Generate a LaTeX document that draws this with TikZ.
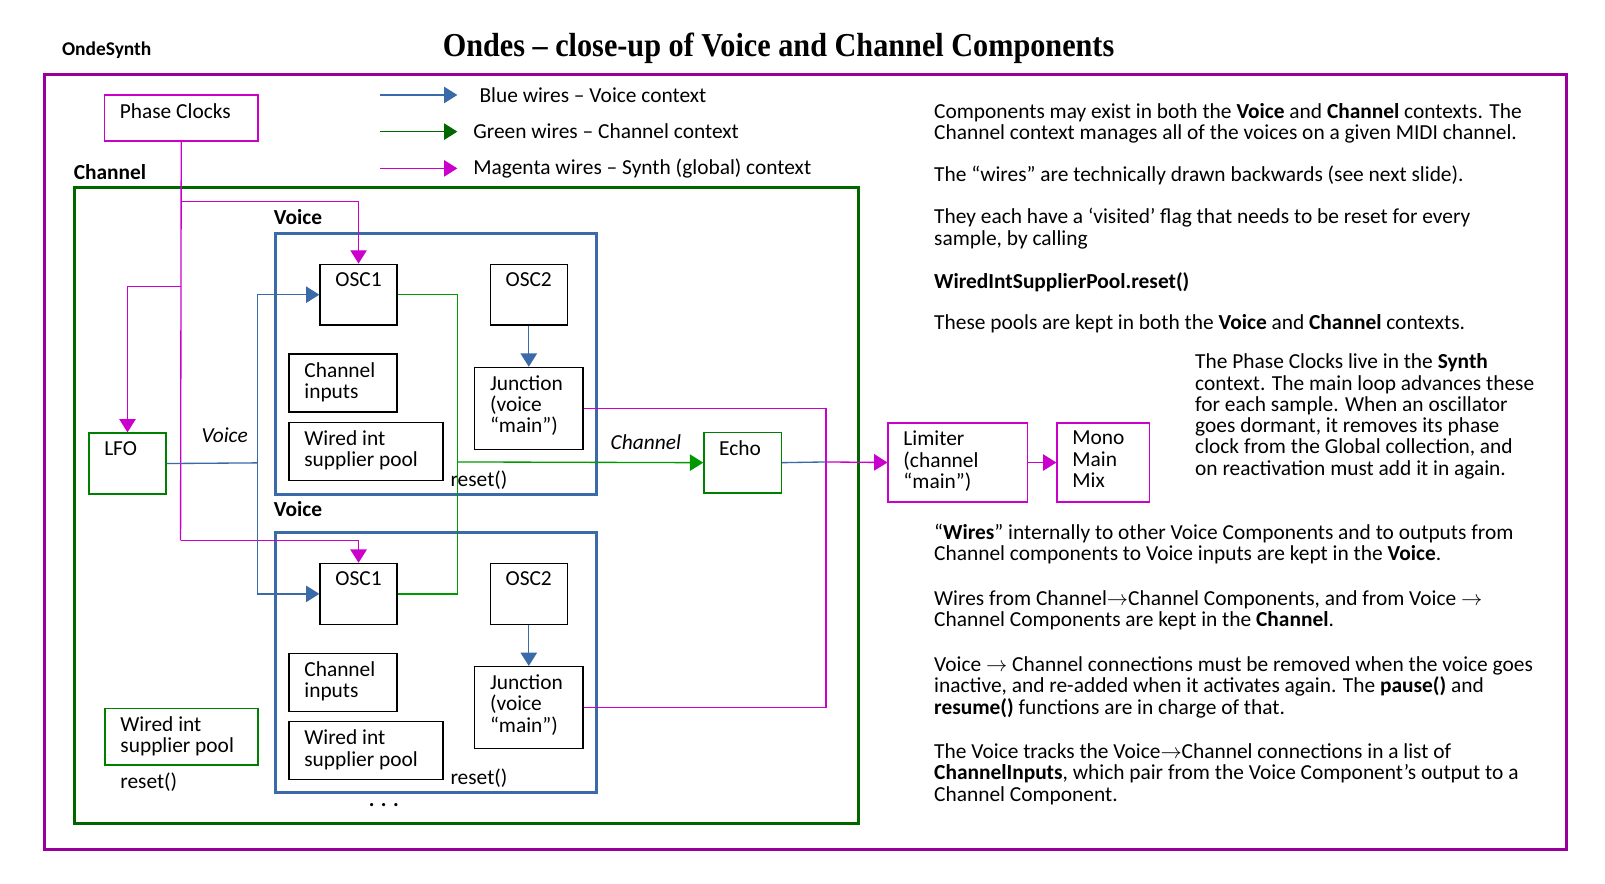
\documentclass[tikz,border=0pt]{standalone}
\usepackage{fontspec}
\setmainfont{Carlito}
\newfontfamily\titlefont{Liberation Serif}
\usetikzlibrary{arrows.meta,positioning}

\definecolor{synthpurple}{RGB}{153,0,153}
\definecolor{changreen}{RGB}{0,102,0}
\definecolor{voiceblue}{RGB}{58,106,168}
\definecolor{wiremag}{RGB}{204,0,204}
\definecolor{wiregreen}{RGB}{0,153,0}
\definecolor{compgreen}{RGB}{0,128,0}

\newcommand{\bodyfont}{\fontsize{20.9}{20.8}\selectfont}
\newcommand{\brandfont}{\fontsize{19}{19}\selectfont}

\tikzset{
	comp/.style 2 args={draw, rectangle, anchor=north west, inner sep=0pt, minimum width=#1pt, minimum height=#2pt, line width=1.3pt},
	frame/.style 2 args={draw, rectangle, anchor=north west, inner sep=0pt, minimum width=#1pt, minimum height=#2pt, line width=3pt},
	boxtext/.style={anchor=north west, align=left, inner sep=0pt, xshift=15pt, yshift=-8pt, font=\bodyfont},
	para/.style={anchor=north west, align=left, inner sep=0pt, font=\bodyfont},
	wireb/.style={draw=voiceblue, line width=1.3pt},
	wireg/.style={draw=wiregreen, line width=1.3pt},
	wirem/.style={draw=wiremag, line width=1.3pt},
}

\begin{document}
\begin{tikzpicture}[-, >={Triangle[length=13pt,width=16pt]}, line width=1.3pt, x=1pt, y=-1pt, node distance=40pt]
	\useasboundingbox (0,0) rectangle (1568,863.6);

	% heading
	\node [anchor=base west, font=\brandfont\bfseries] (brand) at (56.6,54.7) {OndeSynth};
	\node [anchor=base, inner sep=0pt] (title) at (760.6,55.5) {\resizebox{656pt}{23pt}{\titlefont\bfseries Ondes – close-up of Voice and Channel Components}};

	% frames
	\node [frame={1486.9}{756.4}, draw=synthpurple] (synth) at (41.6,71.6) {};
	\node [frame={766.3}{621.7}, draw=changreen] (chan) at (71.3,181.7) {};
	\node [frame={313.8}{255}, draw=voiceblue] (voicea) at (267.2,227) {};
	\node [frame={313.8}{254}, draw=voiceblue] (voiceb) at (267.2,518.8) {};
	\node [anchor=base west, inner sep=0pt, font=\bodyfont\bfseries] (chanlbl) at (71.5,174.9) {Channel};
	\node [anchor=base west, inner sep=0pt, font=\bodyfont\bfseries] (voicealbl) at (267,219.8) {Voice};
	\node [anchor=base west, inner sep=0pt, font=\bodyfont\bfseries] (voiceblbl) at (267,504.8) {Voice};

	% legend
	\coordinate (legb) at (371,92.8);
	\coordinate (legbend) at (446.8,92.8);
	\coordinate (legg) at (371,128.6);
	\coordinate (leggend) at (446.8,128.6);
	\coordinate (legm) at (371,164.5);
	\coordinate (legmend) at (446.8,164.5);
	\node [right=21pt of legbend, inner sep=0pt, font=\bodyfont] (legbtxt) {Blue wires – Voice context};
	\node [right=15pt of leggend, inner sep=0pt, font=\bodyfont] (leggtxt) {Green wires – Channel context};
	\node [right=15pt of legmend, inner sep=0pt, font=\bodyfont] (legmtxt) {Magenta wires – Synth (global) context};
	\draw [wireb, ->] (legb) -- (legbend);
	\draw [wireg, ->, draw=changreen] (legg) -- (leggend);
	\draw [wirem, ->] (legm) -- (legmend);

	% synth and channel parts
	\node [comp={150}{45}, draw=wiremag, label={[boxtext]north west:Phase Clocks}] (clocks) at (101.4,92.2) {};
	\node [comp={75.4}{59.6}, draw=compgreen, label={[boxtext]north west:LFO}] (lfo) at (86.2,422.4) {};
	\node [comp={75.8}{59.3}, draw=compgreen, label={[boxtext]north west:Echo}] (echo) at (687,421.7) {};
	\node [comp={149.4}{55.3}, draw=compgreen, label={[boxtext]north west:Wired int\\supplier pool}] (chpool) at (102,691.4) {};
	\node [comp={136}{77.2}, draw=wiremag, label={[boxtext]north west:Limiter\\(channel\\“main”)}] (limiter) at (867,412.6) {};
	\node [comp={90.6}{77.2}, draw=wiremag, label={[boxtext]north west:Mono\\Main\\Mix}] (mono) at (1032,412.6) {};
	\node [anchor=west, inner sep=0pt, font=\bodyfont] (chreset) at (116.9,763.7) {reset()};
	\node [font=\bodyfont\itshape] (voicetag) at (219.5,425) {Voice};
	\node [font=\bodyfont\itshape] (chantag) at (631,432) {Channel};
	\node [font=\bodyfont\bfseries] (more) at (375,786.5) {. . .};

	% first voice
	\node [comp={75.3}{59.5}, label={[boxtext]north west:OSC1}] (osca) at (312,257.5) {};
	\node [comp={75.3}{59.5}, label={[boxtext]north west:OSC2}, right=89.7pt of osca.north east, anchor=north west] (oscb) {};
	\node [comp={105.7}{80}, label={[boxtext]north west:Junction\\(voice\\“main”)}, below=40pt of oscb] (junca) {};
	\node [comp={105.6}{56.7}, label={[boxtext]north west:Channel\\inputs}] (inputsa) at (281.7,345.2) {};
	\node [comp={150.3}{56.7}, label={[boxtext]north west:Wired int\\supplier pool}, below=9pt of inputsa.south west, anchor=north west] (poola) {};
	\node [anchor=west, inner sep=0pt, font=\bodyfont] (reseta) at (439.5,469) {reset()};

	% second voice
	\node [comp={75.3}{59.5}, label={[boxtext]north west:OSC1}, below=231.5pt of osca] (osc1b) {};
	\node [comp={75.3}{59.5}, label={[boxtext]north west:OSC2}, below=231.5pt of oscb] (osc2b) {};
	\node [comp={105.7}{80}, label={[boxtext]north west:Junction\\(voice\\“main”)}, below=211pt of junca] (juncb) {};
	\node [comp={105.6}{56.7}, label={[boxtext]north west:Channel\\inputs}, below=234.3pt of inputsa] (inputsb) {};
	\node [comp={150.3}{56.7}, label={[boxtext]north west:Wired int\\supplier pool}, below=234.3pt of poola] (poolb) {};
	\node [anchor=west, inner sep=0pt, font=\bodyfont] (resetb) at (439.5,760) {reset()};

	% magenta wires
	\coordinate (mtop) at (176.4,196.7);
	\coordinate (mlfo) at (176.4,279.7);
	\coordinate (mbot) at (176.4,527.9);
	\coordinate (mbus) at (807,451.3);
	\draw [wirem] (clocks.south) -- (mbot);
	\draw [wirem, ->] (mtop) -| (osca.north);
	\draw [wirem, ->] (mlfo) -| (lfo.north);
	\draw [wirem, ->] (mbot) -| (osc1b.north);
	\draw [wirem] (junca.east) -| (mbus);
	\draw [wirem] (juncb.east) -| (mbus);
	\draw [wirem, ->] (mbus) -- (limiter.west);
	\draw [wirem, ->] (limiter.east) -- (mono.west);

	% blue wires
	\coordinate (bbus) at (251.4,452.2);
	\draw [wireb] (lfo.east) -- (bbus);
	\draw [wireb, ->] (bbus) |- (osca.west);
	\draw [wireb, ->] (bbus) |- (osc1b.west);
	\draw [wireb, ->] (oscb.south) -- (junca.north);
	\draw [wireb, ->] (osc2b.south) -- (juncb.north);
	\draw [wireb] (echo.east) -- (mbus);

	% green wires
	\coordinate (gbus) at (447.2,451.3);
	\draw [wireg] (osca.east) -| (gbus);
	\draw [wireg] (osc1b.east) -| (gbus);
	\draw [wireg, ->] (gbus) -- (echo.west);

	% notes
	\node [para] (notea) at (912,100) {Components may exist in both the \textbf{Voice} and \textbf{Channel} contexts. The\\Channel context manages all of the voices on a given MIDI channel.};
	\node [para] (noteb) at (912,161) {The “wires” are technically drawn backwards (see next slide).};
	\node [para] (notec) at (912,203) {They each have a ‘visited’ flag that needs to be reset for every\\sample, by calling};
	\node [para] (noted) at (912,266) {\textbf{WiredIntSupplierPool.reset()}};
	\node [para] (notee) at (912,307) {These pools are kept in both the \textbf{Voice} and \textbf{Channel} contexts.};
	\node [para] (notef) at (1167,345) {The Phase Clocks live in the \textbf{Synth}\\context. The main loop advances these\\for each sample. When an oscillator\\goes dormant, it removes its phase\\clock from the Global collection, and\\on reactivation must add it in again.};
	\node [para] (noteg) at (912,511) {“\textbf{Wires}” internally to other Voice Components and to outputs from\\Channel components to Voice inputs are kept in the \textbf{Voice}.};
	\node [para] (noteh) at (912,576) {Wires from Channel$\rightarrow$Channel Components, and from Voice $\rightarrow$\\Channel Components are kept in the \textbf{Channel}.};
	\node [para] (notei) at (912,641) {Voice $\rightarrow$ Channel connections must be removed when the voice goes\\inactive, and re-added when it activates again. The \textbf{pause()} and\\\textbf{resume()} functions are in charge of that.};
	\node [para] (notej) at (912,726) {The Voice tracks the Voice$\rightarrow$Channel connections in a list of\\\textbf{ChannelInputs}, which pair from the Voice Component’s output to a\\Channel Component.};
\end{tikzpicture}
\end{document}
